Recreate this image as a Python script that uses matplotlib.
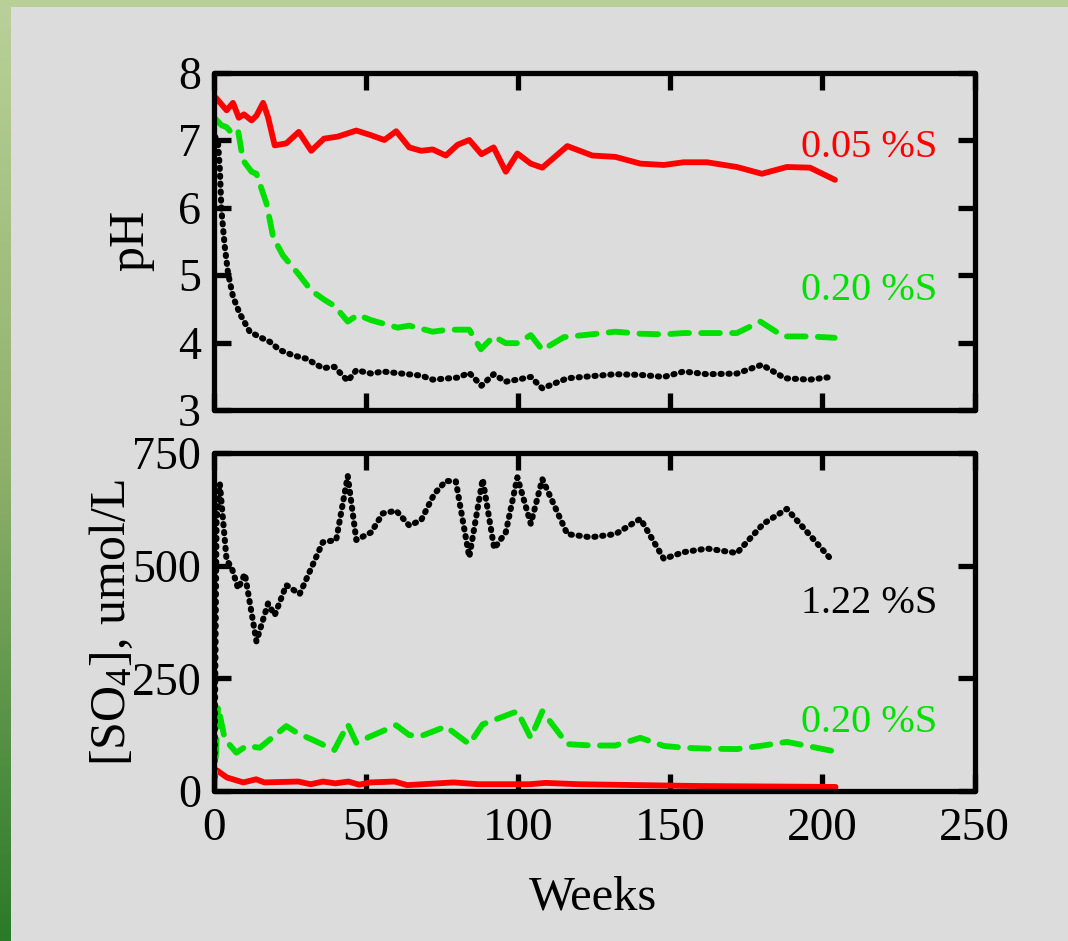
import numpy as np
import matplotlib
matplotlib.use("Agg")
import matplotlib.pyplot as plt
from matplotlib.colors import LinearSegmentedColormap

# ---------------- data ----------------
red_ph_w = [0.7, 4.3, 6.4, 8.3, 10, 12.5, 14.1, 16.3, 17.9, 20.1, 23.9, 28, 32.1, 36.3, 40.8,
            46.9, 51.8, 56.1, 60, 64.3, 68.2, 72, 76.3, 80.2, 84, 88, 92, 96, 99.8, 104.2,
            108, 116.2, 124.4, 132, 140.2, 147.9, 154.4, 162.1, 171.9, 180.1, 188.3, 195.9, 204.1]
red_ph = [7.63, 7.44, 7.55, 7.33, 7.38, 7.29, 7.36, 7.55, 7.34, 6.92, 6.95, 7.12, 6.84, 7.02, 7.05,
          7.14, 7.07, 7.0, 7.13, 6.89, 6.84, 6.86, 6.77, 6.93, 7.0, 6.79, 6.89, 6.53, 6.8, 6.65,
          6.59, 6.91, 6.77, 6.75, 6.65, 6.63, 6.67, 6.67, 6.6, 6.5, 6.6, 6.59, 6.41]

green_ph_w = [0.7, 2.6, 4.3, 6.4, 8.1, 9.7, 12.5, 14.1, 17.4, 19.6, 22.8, 27.8, 32.1, 36.5, 39.8,
              44.1, 47.4, 51.8, 60.5, 64.3, 72, 76.9, 84, 87.8, 92, 96, 99.8, 104.2, 108, 115.1,
              123.9, 132, 140.2, 147.9, 154.4, 162.1, 171.9, 179.6, 187.2, 195.9, 204]
green_ph = [7.31, 7.22, 7.19, 7.08, 7.13, 6.7, 6.53, 6.5, 6.06, 5.56, 5.29, 5.02, 4.77, 4.63, 4.54,
            4.31, 4.41, 4.33, 4.22, 4.25, 4.16, 4.19, 4.19, 3.90, 4.09, 3.99, 3.99, 4.11, 3.89, 4.08,
            4.12, 4.16, 4.13, 4.12, 4.14, 4.14, 4.14, 4.31, 4.09, 4.09, 4.07]

black_ph_w = [0.5, 1.5, 2.1, 2.6, 3.7, 4.8, 6.4, 8.6, 11.9, 15.2, 18.5, 21.7, 26.1, 30.5, 35.9,
              39.7, 44.1, 46.9, 51.8, 55.6, 63.8, 68.2, 72, 80.2, 84, 88, 92, 96, 99.8, 104.2,
              108, 116.2, 123.9, 132, 140.2, 147.9, 154.4, 162.1, 171.9, 180.1, 187.7, 195.9, 203]
black_ph = [7.05, 6.95, 6.55, 5.96, 5.42, 5.02, 4.68, 4.43, 4.16, 4.08, 4.01, 3.89, 3.81, 3.76, 3.62,
            3.64, 3.43, 3.59, 3.54, 3.57, 3.53, 3.51, 3.45, 3.48, 3.55, 3.36, 3.53, 3.42, 3.45, 3.49,
            3.32, 3.47, 3.50, 3.53, 3.52, 3.49, 3.57, 3.53, 3.54, 3.67, 3.47, 3.45, 3.49]

black_so4_w = [0.3, 1.0, 2.1, 4.3, 5.9, 8.1, 10.3, 14.1, 17.9, 20.1, 23.9, 28.3, 35.9, 40.3, 44.1,
               46.9, 51.8, 55.6, 60, 64.3, 68.2, 72.5, 76.3, 79.6, 84, 88.4, 92.2, 96, 99.8, 104.2,
               108, 116.2, 123.9, 132, 140.2, 147.9, 154.4, 162.1, 171.9, 180.6, 188.3, 203.6]
black_so4 = [30, 600, 681, 512, 497, 449, 482, 332, 416, 390, 457, 437, 552, 557, 699,
             557, 574, 616, 622, 589, 601, 659, 688, 687, 519, 692, 538, 574, 696, 593,
             692, 570, 563, 570, 604, 515, 530, 538, 528, 593, 626, 508]

green_so4_w = [0.3, 1.5, 3.7, 7.5, 10.8, 15.2, 23.9, 27.7, 32.1, 39.7, 44.1, 46.9, 51.8, 60, 64.3,
               68.2, 76.3, 84, 88.4, 99.8, 104.2, 108, 116.2, 123.9, 132, 140.2, 147.9, 154.4,
               162.1, 171.9, 180.6, 188.3, 204]
green_so4 = [5, 188, 115, 85, 100, 96, 144, 128, 115, 91, 148, 107, 122, 146, 124,
             122, 143, 104, 148, 177, 118, 177, 104, 101, 101, 118, 100, 96,
             94, 93, 101, 109, 88]

red_so4_w = [1.3, 4.4, 9.8, 14, 16.7, 27.8, 31.9, 36, 40, 44.3, 47.8, 51.5, 59.5, 63.6, 78.8,
             87.1, 103.8, 109, 120, 160, 204.3]
red_so4 = [45, 30, 19, 26, 19, 21, 15, 21, 17, 21, 14, 19, 21, 13, 19,
           15, 15, 18, 15, 11, 9]

x_ticks = [0, 50, 100, 150, 200, 250]
ph_ticks = [3, 4, 5, 6, 7, 8]
so4_ticks = [0, 250, 500, 750]

labels_top = ["0.05 %S", "0.20 %S"]
labels_bottom = ["1.22 %S", "0.20 %S"]

# ---------------- style ----------------
plt.rcParams['font.family'] = ['Liberation Serif', 'DejaVu Serif']
plt.rcParams['mathtext.fontset'] = 'custom'
plt.rcParams['mathtext.rm'] = 'Liberation Serif'
plt.rcParams['mathtext.it'] = 'Liberation Serif:italic'

BG = '#dcdcdc'
RED = '#ff0000'
GREEN = '#00e000'
BLACK = '#000000'

W, H = 1068, 941
fig = plt.figure(figsize=(W / 100, H / 100), dpi=100, facecolor=BG)

# decorative green border
axl = fig.add_axes([0, 0, 11 / W, 1])
grad = np.linspace(0, 1, 256).reshape(-1, 1)
cmap = LinearSegmentedColormap.from_list('g', ['#b9d199', '#8fb06a', '#2a7a28'])
axl.imshow(grad, aspect='auto', cmap=cmap, extent=[0, 1, 0, 1], origin='upper')
axl.set_axis_off()
axt = fig.add_axes([0, 1 - 7 / H, 1, 7 / H])
axt.set_facecolor('#b8d098')
axt.set_xticks([]); axt.set_yticks([])
for s in axt.spines.values():
    s.set_visible(False)

left_px, right_px = 213.5, 974.7
def ax_rect(top_px, bot_px):
    return [left_px / W, 1 - bot_px / H, (right_px - left_px) / W, (bot_px - top_px) / H]

ax1 = fig.add_axes(ax_rect(72.5, 410))
ax2 = fig.add_axes(ax_rect(453, 791))

for ax in (ax1, ax2):
    ax.set_facecolor(BG)
    for s in ax.spines.values():
        s.set_linewidth(3.8)
        s.set_capstyle('round')
    ax.tick_params(direction='in', length=12, width=3.8, top=True, right=True, pad=9)
    ax.tick_params(axis='x', labelsize=34)
    ax.tick_params(axis='y', labelsize=33)
    ax.set_xlim(0, 250)
    ax.set_xticks(x_ticks)
    for t in ax.xaxis.get_ticklines() + ax.yaxis.get_ticklines():
        t.set_solid_capstyle('round')

dot_style = dict(color=BLACK, lw=4.4, linestyle=(0, (0.2, 1.1)), dash_capstyle='round',
                 dash_joinstyle='round')
dash_style = dict(color=GREEN, lw=4.2, linestyle=(0, (3.2, 2.1)), dash_capstyle='round',
                  dash_joinstyle='round')
solid_style = dict(color=RED, lw=4.2, solid_capstyle='round', solid_joinstyle='round')

# top: pH
ax1.plot(red_ph_w, red_ph, **solid_style)
ax1.plot(green_ph_w, green_ph, **dash_style)
ax1.plot(black_ph_w, black_ph, **dot_style)
ax1.set_ylim(3, 8)
ax1.set_yticks(ph_ticks)
ax1.tick_params(labelbottom=False)

ax1.text(237.6, 6.75, labels_top[0], color=RED, fontsize=29, ha='right', va='baseline')
ax1.text(237.6, 4.63, labels_top[1], color=GREEN, fontsize=29, ha='right', va='baseline')

# bottom: SO4
ax2.plot(red_so4_w, red_so4, **solid_style)
ax2.plot(green_so4_w, green_so4, **dash_style)
ax2.plot(black_so4_w, black_so4, **dot_style)
ax2.set_ylim(0, 750)
ax2.set_yticks(so4_ticks)
ax2.tick_params(axis='x', pad=12)

ax2.text(237.6, 395, labels_bottom[0], color=BLACK, fontsize=29, ha='right', va='baseline')
ax2.text(237.6, 131, labels_bottom[1], color=GREEN, fontsize=29, ha='right', va='baseline')

fig.text(131 / W, 1 - 240 / H, 'pH', rotation=90, ha='center', va='center', fontsize=36)
fig.text(112 / W, 1 - 622 / H, r'[$\mathregular{SO_4}$], umol/L', rotation=90,
         ha='center', va='center', fontsize=36)
fig.text(593 / W, 1 - 910 / H, 'Weeks', ha='center', va='baseline', fontsize=35)

fig.savefig('out.png', dpi=100, facecolor=BG)
